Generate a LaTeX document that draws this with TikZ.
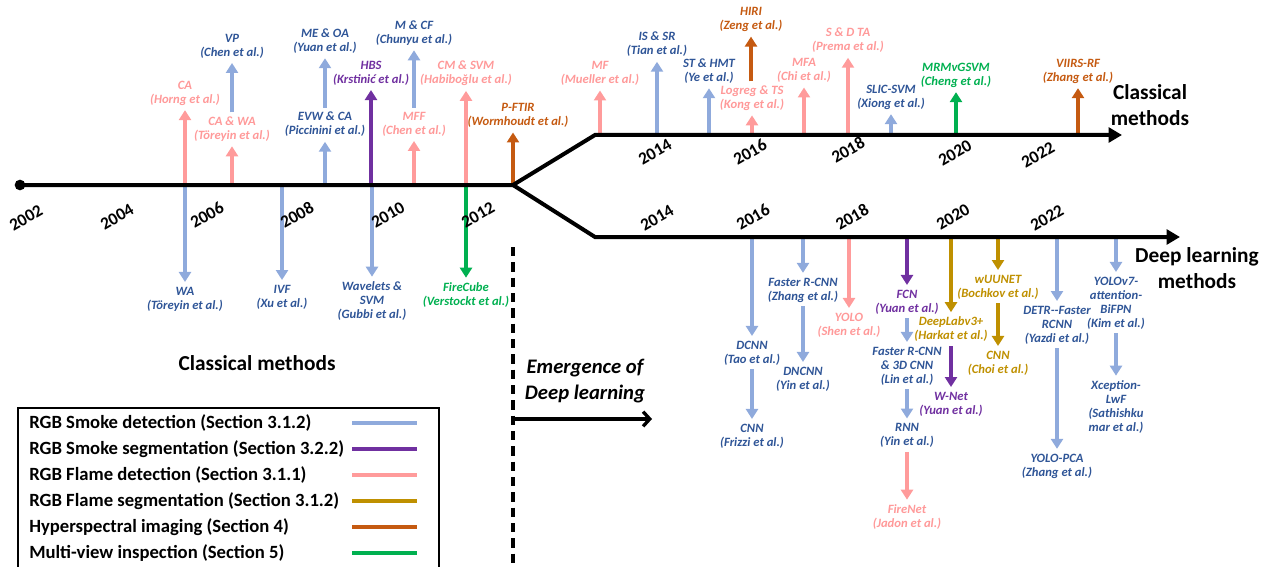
\documentclass[tikz,border=0pt]{standalone}
\usepackage{fontspec}
\setmainfont{Carlito}
\usetikzlibrary{arrows.meta}

\definecolor{smkLine}{HTML}{8FAADC}
\definecolor{smkText}{HTML}{2F5597}
\definecolor{segCol}{HTML}{7030A0}
\definecolor{flmLine}{HTML}{FF9B9B}
\definecolor{flmText}{HTML}{FF9999}
\definecolor{fsegCol}{HTML}{BF9000}
\definecolor{hypCol}{HTML}{C55A11}
\definecolor{mvCol}{HTML}{00B050}

\begin{document}
\begin{tikzpicture}[x=0.75pt,y=-0.75pt,
  every node/.style = {inner sep=0pt, align=center},
  lbl/.style = {font=\fontsize{9.5}{10.5}\selectfont\bfseries\itshape},
  yr/.style = {font=\fontsize{13}{14}\selectfont\bfseries, rotate=30},
  big/.style = {font=\fontsize{16}{19}\selectfont\bfseries},
  leg/.style = {font=\fontsize{14}{16}\selectfont\bfseries, anchor=west},
  arr/.style = {line width=3.3pt, -{Triangle[width=9pt,length=7.5pt]},
    shorten >=3.5pt},
  chain/.style = {shorten <=3pt},
  tl/.style = {line width=3pt, -{Triangle[width=11pt,length=10pt]}},
  smk/.style = {lbl, text=smkText}, smkA/.style = {arr, draw=smkLine},
  seg/.style = {lbl, text=segCol}, segA/.style = {arr, draw=segCol},
  flm/.style = {lbl, text=flmText}, flmA/.style = {arr, draw=flmLine},
  fseg/.style = {lbl, text=fsegCol}, fsegA/.style = {arr, draw=fsegCol},
  hyp/.style = {lbl, text=hypCol}, hypA/.style = {arr, draw=hypCol},
  mv/.style = {lbl, text=mvCol}, mvA/.style = {arr, draw=mvCol}]
  \useasboundingbox (0,0) rectangle (1272,567);

  % timeline points
  \coordinate (o) at (20,185);
  \coordinate (br) at (513,185);
  \coordinate (upc) at (595,135);
  \coordinate (upe) at (1122,135);
  \coordinate (loc) at (595,237);
  \coordinate (loe) at (1180,237);

  % classical, before 2012
  \node[flm] (ca) at (185,93) {CA\\(Horng et al.)};
  \node[flm] (cawa) at (232,129) {CA \& WA\\(Töreyin et al.)};
  \node[smk] (vp) at (232,46) {VP\\(Chen et al.)};
  \node[smk] (evw) at (325,124.5) {EVW \& CA\\(Piccinini et al.)};
  \node[smk] (meoa) at (325,41) {ME \& OA\\(Yuan et al.)};
  \node[seg] (hbs) at (371,73) {HBS\\(Krstinić et al.)};
  \node[flm] (mff) at (414,124) {MFF\\(Chen et al.)};
  \node[smk] (mcf) at (414,33) {M \& CF\\(Chunyu et al.)};
  \node[flm] (cmsvm) at (466,73.5) {CM \& SVM\\(Habiboğlu et al.)};
  \node[hyp] (pftir) at (518,115.5) {P-FTIR\\(Wormhoudt et al.)};
  \node[smk] (wa) at (185,299) {WA\\(Töreyin et al.)};
  \node[smk] (ivf) at (282,297) {IVF\\(Xu et al.)};
  \node[smk] (wsvm) at (372,301) {Wavelets \&\\SVM\\(Gubbi et al.)};
  \node[mv] (fcube) at (466,295) {FireCube\\(Verstockt et al.)};

  \draw[flmA] (ca.south |- o) -- (ca.south);
  \draw[flmA] (cawa.south |- o) -- (cawa.south);
  \draw[smkA, chain] (vp.south |- cawa.north) -- (vp.south);
  \draw[smkA] (evw.south |- o) -- (evw.south);
  \draw[smkA, chain] (meoa.south |- evw.north) -- (meoa.south);
  \draw[segA] (hbs.south |- o) -- (hbs.south);
  \draw[flmA] (mff.south |- o) -- (mff.south);
  \draw[smkA, chain] (mcf.south |- mff.north) -- (mcf.south);
  \draw[flmA] (cmsvm.south |- o) -- (cmsvm.south);
  \draw[hypA] (br) -- (br |- pftir.south);
  \draw[smkA] (wa.north |- o) -- (wa.north);
  \draw[smkA] (ivf.north |- o) -- (ivf.north);
  \draw[smkA] (wsvm.north |- o) -- (wsvm.north);
  \draw[mvA] (fcube.north |- o) -- (fcube.north);

  % classical, after 2012
  \node[flm] (mf) at (600,73.5) {MF\\(Mueller et al.)};
  \node[smk] (issr) at (657,44.5) {IS \& SR\\(Tian et al.)};
  \node[smk] (sthmt) at (709,71) {ST \& HMT\\(Ye et al.)};
  \node[flm] (logreg) at (752,98) {Logreg \& TS\\(Kong et al.)};
  \node[hyp] (hiri) at (751,19.5) {HIRI\\(Zeng et al.)};
  \node[flm] (mfa) at (804,70.5) {MFA\\(Chi et al.)};
  \node[flm] (sdta) at (848,40.5) {S \& D TA\\(Prema et al.)};
  \node[smk] (slic) at (891,97) {SLIC-SVM\\(Xiong et al.)};
  \node[mv] (mrmv) at (956,75) {MRMvGSVM\\(Cheng et al.)};
  \node[hyp] (viirs) at (1078,71) {VIIRS-RF\\(Zhang et al.)};

  \draw[flmA] (mf.south |- upc) -- (mf.south);
  \draw[smkA] (issr.south |- upc) -- (issr.south);
  \draw[smkA] (sthmt.south |- upc) -- (sthmt.south);
  \draw[flmA] (logreg.south |- upc) -- (logreg.south);
  \draw[hypA, chain] (hiri.south |- logreg.north) -- (hiri.south);
  \draw[flmA] (mfa.south |- upc) -- (mfa.south);
  \draw[flmA] (sdta.south |- upc) -- (sdta.south);
  \draw[smkA] (slic.south |- upc) -- (slic.south);
  \draw[mvA] (mrmv.south |- upc) -- (mrmv.south);
  \draw[hypA] (viirs.south |- upc) -- (viirs.south);

  % deep learning
  \node[smk] (dcnn) at (752,353) {DCNN\\(Tao et al.)};
  \node[smk] (cnnF) at (752,436) {CNN\\(Frizzi et al.)};
  \node[smk] (frcnnZ) at (803,290) {Faster R-CNN\\(Zhang et al.)};
  \node[smk] (dncnn) at (803,379) {DNCNN\\(Yin et al.)};
  \node[flm] (yoloS) at (849,325) {YOLO\\(Shen et al.)};
  \node[seg] (fcn) at (907,302) {FCN\\(Yuan et al.)};
  \node[smk] (frcnnL) at (907,366) {Faster R-CNN\\\& 3D CNN\\(Lin et al.)};
  \node[smk] (rnn) at (907,435.5) {RNN\\(Yin et al.)};
  \node[flm] (fnet) at (907,517) {FireNet\\(Jadon et al.)};
  \node[fseg] (dlab) at (951,329.5) {DeepLabv3+\\(Harkat et al.)};
  \node[seg] (wnet) at (951,404) {W-Net\\(Yuan et al.)};
  \node[fseg] (wuunet) at (998,287) {wUUNET\\(Bochkov et al.)};
  \node[fseg] (cnnC) at (998,363) {CNN\\(Choi et al.)};
  \node[smk] (detr) at (1057,325) {DETR-{}-Faster\\RCNN\\(Yazdi et al.)};
  \node[smk] (ypca) at (1057,466) {YOLO-PCA\\(Zhang et al.)};
  \node[smk] (yolo7) at (1116,303) {YOLOv7-\\attention-\\BiFPN\\(Kim et al.)};
  \node[smk] (xcep) at (1116,407) {Xception-\\LwF\\(Sathishku\\mar et al.)};

  \draw[smkA] (dcnn.north |- loc) -- (dcnn.north);
  \draw[smkA, chain] (dcnn.south) -- (cnnF.north);
  \draw[smkA] (frcnnZ.north |- loc) -- (frcnnZ.north);
  \draw[smkA, chain] (frcnnZ.south) -- (dncnn.north);
  \draw[flmA] (yoloS.north |- loc) -- (yoloS.north);
  \draw[segA] (fcn.north |- loc) -- (fcn.north);
  \draw[smkA, chain] (fcn.south) -- (frcnnL.north);
  \draw[smkA, chain] (frcnnL.south) -- (rnn.north);
  \draw[flmA, chain] (rnn.south) -- (fnet.north);
  \draw[fsegA] (dlab.north |- loc) -- (dlab.north);
  \draw[segA, chain] (dlab.south) -- (wnet.north);
  \draw[fsegA] (wuunet.north |- loc) -- (wuunet.north);
  \draw[fsegA, chain] (wuunet.south) -- (cnnC.north);
  \draw[smkA] (detr.north |- loc) -- (detr.north);
  \draw[smkA, chain] (detr.south) -- (ypca.north);
  \draw[smkA] (yolo7.north |- loc) -- (yolo7.north);
  \draw[smkA, chain] (yolo7.south) -- (xcep.north);

  % the timeline itself
  \fill (o) circle (4pt);
  \draw[tl] (o) -- (br) -- (upc) -- (upe);
  \draw[tl] (br) -- (loc) -- (loe);

  \foreach \yr/\px/\py in {2002/26/218, 2004/117/217, 2006/207/215,
      2008/297/215, 2010/388/215, 2012/478/215}
    \node[yr] (m\yr) at (\px,\py) {\yr};
  \foreach \yr/\px/\py in {2014/655/152, 2016/750/152, 2018/848/150,
      2020/955/153, 2022/1038/155}
    \node[yr] (u\yr) at (\px,\py) {\yr};
  \foreach \yr/\px/\py in {2014/657/218, 2016/753/217, 2018/852/217,
      2020/953/217, 2022/1047/218}
    \node[yr] (l\yr) at (\px,\py) {\yr};

  \node[big] (clsL) at (257,363) {Classical methods};
  \node[big] (clsR) at (1150,105) {Classical\\methods};
  \node[big, font=\fontsize{16}{20}\selectfont\bfseries] (dlR) at (1197,268)
    {Deep learning\\methods};

  % emergence of deep learning
  \coordinate (dtop) at (513,247);
  \coordinate (dbot) at (513,570);
  \draw[line width=2.6pt, dash pattern=on 7pt off 4.5pt] (dtop) -- (dbot);
  \node[big, font=\fontsize{15.5}{19}\selectfont\bfseries\itshape] (emg)
    at (585,381) {Emergence of\\Deep learning};
  \coordinate (ea) at (513,419);
  \coordinate (eb) at (652,419);
  \draw[line width=2.5pt, -{Straight Barb[length=5pt,width=11pt]}] (ea) -- (eb);

  % legend
  \draw[line width=0.8pt] (18,408) rectangle (439,575);
  \foreach \col/\txt [count=\i] in {smkLine/RGB Smoke detection (Section 3.1.2),
      segCol/RGB Smoke segmentation (Section 3.2.2),
      flmLine/RGB Flame detection (Section 3.1.1),
      fsegCol/RGB Flame segmentation (Section 3.1.2),
      hypCol/Hyperspectral imaging (Section 4),
      mvCol/Multi-view inspection (Section 5)} {
    \node[leg] (leg\i) at (29,{397+26*\i}) {\txt};
    \draw[line width=3pt, \col] (352,{397+26*\i}) -- (417,{397+26*\i});
  }
\end{tikzpicture}
\end{document}
